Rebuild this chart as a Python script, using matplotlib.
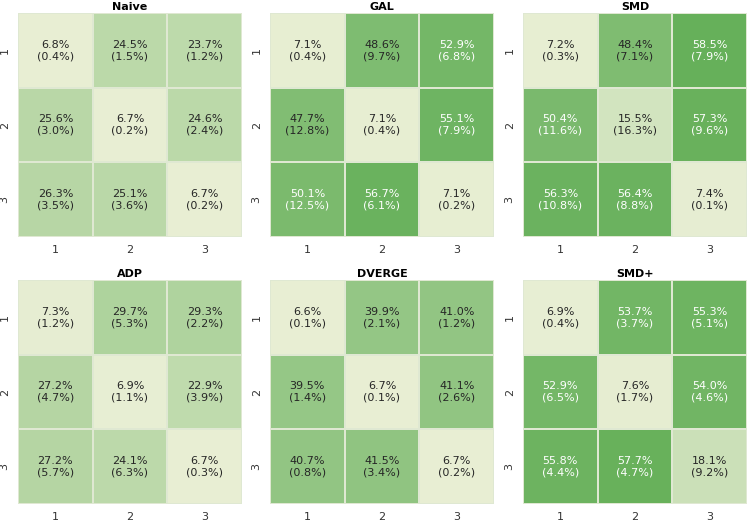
import numpy as np
import matplotlib
matplotlib.use("Agg")
import matplotlib.pyplot as plt
from matplotlib.colors import LinearSegmentedColormap
import seaborn as sns

names = ["Naive", "GAL", "SMD", "ADP", "DVERGE", "SMD+"]
ticks = ["1", "2", "3"]

naive_mean = [[6.8, 24.5, 23.7], [25.6, 6.7, 24.6], [26.3, 25.1, 6.7]]
naive_std = [[0.4, 1.5, 1.2], [3.0, 0.2, 2.4], [3.5, 3.6, 0.2]]
gal_mean = [[7.1, 48.6, 52.9], [47.7, 7.1, 55.1], [50.1, 56.7, 7.1]]
gal_std = [[0.4, 9.7, 6.8], [12.8, 0.4, 7.9], [12.5, 6.1, 0.2]]
smd_mean = [[7.2, 48.4, 58.5], [50.4, 15.5, 57.3], [56.3, 56.4, 7.4]]
smd_std = [[0.3, 7.1, 7.9], [11.6, 16.3, 9.6], [10.8, 8.8, 0.1]]
adp_mean = [[7.3, 29.7, 29.3], [27.2, 6.9, 22.9], [27.2, 24.1, 6.7]]
adp_std = [[1.2, 5.3, 2.2], [4.7, 1.1, 3.9], [5.7, 6.3, 0.3]]
dverge_mean = [[6.6, 39.9, 41.0], [39.5, 6.7, 41.1], [40.7, 41.5, 6.7]]
dverge_std = [[0.1, 2.1, 1.2], [1.4, 0.1, 2.6], [0.8, 3.4, 0.2]]
smdp_mean = [[6.9, 53.7, 55.3], [52.9, 7.6, 54.0], [55.8, 57.7, 18.1]]
smdp_std = [[0.4, 3.7, 5.1], [6.5, 1.7, 4.6], [4.4, 4.7, 9.2]]

means = [naive_mean, gal_mean, smd_mean, adp_mean, dverge_mean, smdp_mean]
stds = [naive_std, gal_std, smd_std, adp_std, dverge_std, smdp_std]

cmap = LinearSegmentedColormap.from_list("grn", ["#e8eed3", "#66b05a"])
vmin = min(np.min(m) for m in means)
vmax = max(np.max(m) for m in means)

W, H = 747, 522
fig = plt.figure(figsize=(W / 100, H / 100), dpi=100)
lefts = [18, 270, 523]
tops = [13, 280]
size = 224

for i, name in enumerate(names):
    r, c = divmod(i, 3)
    ax = fig.add_axes([lefts[c] / W, (H - tops[r] - size) / H, size / W, size / H])
    m = np.array(means[i])
    s = np.array(stds[i])
    labels = np.array([[f"{m[a, b]:.1f}%\n({s[a, b]:.1f}%)" for b in range(3)] for a in range(3)])
    sns.heatmap(m, ax=ax, annot=labels, fmt="", cmap=cmap, vmin=vmin, vmax=vmax,
                cbar=False, linewidths=0.2, linecolor="#dfe8d2",
                xticklabels=ticks, yticklabels=ticks, annot_kws={"fontsize": 8})
    ax.set_title(name, fontsize=8, fontweight="bold", pad=2)
    ax.tick_params(length=0, labelsize=8, colors="#333333", pad=6)
    plt.setp(ax.get_yticklabels(), rotation=90, va="center")

fig.savefig("out.png", dpi=100)
